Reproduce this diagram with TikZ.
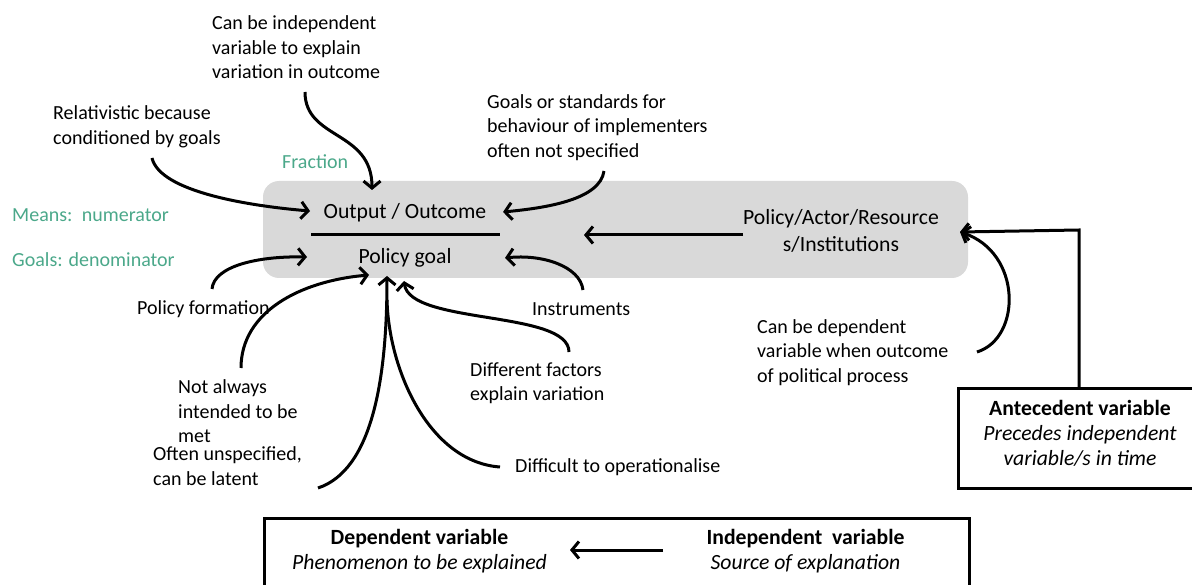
\documentclass[tikz,border=0pt]{standalone}
\usepackage{fontspec}
\setmainfont{Carlito}
\usetikzlibrary{arrows.meta}
\definecolor{fracgreen}{HTML}{4BA88A}
\definecolor{boxgray}{HTML}{D9D9D9}

\begin{document}
\begin{tikzpicture}[x=1pt,y=-1pt,
    every node/.style={font=\fontsize{20}{24.5}\selectfont, inner sep=0pt},
    note/.style={align=left, anchor=west},
    greennote/.style={anchor=west, text=fracgreen},
    term/.style={font=\fontsize{21.7}{26.5}\selectfont},
    varbox/.style={align=center, font=\fontsize{21.7}{25}\selectfont},
    link/.style={line width=3pt, -{Straight Barb[length=7pt,width=17pt]}},
    frame/.style={line width=3pt}
  ]
  \useasboundingbox (0,0) rectangle (1192,585);

  % grey band behind the fraction
  \fill[boxgray, rounded corners=16pt] (263,181) rectangle (968,278);

  % fraction and the independent side
  \node[term] (out) at (405,213) {Output / Outcome};
  \node[term] (goal) at (405,258) {Policy goal};
  \node[term, align=center] (pol) at (841,231) {Policy/Actor/Resource\\s/Institutions};
  \draw[line width=3pt] (311,235) -- (500,235);
  \coordinate (poltip) at (584,235);
  \draw[link] (743,235) -- (poltip);

  % green labels
  \node[greennote] (frac) at (282,162) {Fraction};
  \node[greennote] (means) at (12,215) {Means: \,numerator};
  \node[greennote] (goals) at (12,260) {Goals: denominator};

  % comments
  \node[note] (indep) at (212,47.5) {Can be independent\\variable to explain\\variation in outcome};
  \node[note] (relat) at (53,127) {Relativistic because\\conditioned by goals};
  \node[note] (stand) at (487,127.5) {Goals or standards for\\behaviour of implementers\\often not specified};
  \node[note] (form) at (137,309) {Policy formation};
  \node[note] (instr) at (532,309) {Instruments};
  \node[note] (depend) at (757,352.5) {Can be dependent\\variable when outcome\\of political process};
  \node[note] (notmet) at (178,411.5) {Not always\\intended to be\\met};
  \node[note] (factors) at (470,383) {Different factors\\explain variation};
  \node[note] (latent) at (153,466) {Often unspecified,\\can be latent};
  \node[note] (operat) at (515,467) {Difficult to operationalise};

  % curved pointers
  \coordinate (a0) at (305,92);   \coordinate (a1) at (372,190);
  \coordinate (b0) at (152,158);  \coordinate (b1) at (310,211);
  \coordinate (c0) at (604,171);  \coordinate (c1) at (503,212);
  \coordinate (d0) at (212,289);  \coordinate (d1) at (307,257);
  \coordinate (e0) at (241,368);  \coordinate (e1) at (369,275);
  \coordinate (f0) at (318,488);  \coordinate (g0) at (500,467);
  \coordinate (fg) at (387,276);
  \coordinate (h0) at (569,352);  \coordinate (h1) at (404,281);
  \coordinate (i0) at (583,290);  \coordinate (i1) at (505,258);
  \coordinate (j0) at (977,352);  \coordinate (j1) at (960,232);

  \draw[link] (a0) .. controls (305,140) and (372,130) .. (a1);
  \draw[link] (b0) .. controls (160,192) and (250,206) .. (b1);
  \draw[link] (c0) .. controls (600,200) and (545,208) .. (c1);
  \draw[link] (d0) .. controls (214,266) and (258,256) .. (d1);
  \draw[link] (e0) .. controls (241,312) and (300,281) .. (e1);
  \draw[line width=3pt] (g0) .. controls (430,462) and (389,372) .. (387,300);
  \draw[link] (f0) .. controls (372,470) and (387,380) .. (fg);
  \draw[link] (h0) .. controls (569,310) and (410,325) .. (h1);
  \draw[link] (i0) .. controls (580,266) and (542,254) .. (i1);
  \draw[link] (j0) .. controls (1022,338) and (1022,252) .. (j1);

  % antecedent variable
  \draw[frame] (958,389) rectangle (1210,488);
  \node[varbox] (ante) at (1080,433) {\textbf{Antecedent variable}\\\textit{Precedes independent}\\\textit{variable/s in time}};
  \coordinate (corner) at (1079,230);
  \draw[link] (1079,389) -- (corner) -- (j1);

  % dependent / independent
  \draw[frame] (264,518) rectangle (969,600);
  \node[varbox] (dep) at (419.5,551.5) {\textbf{Dependent variable}\\\textit{Phenomenon to be explained}};
  \node[varbox] (ind) at (805.5,551.5) {\textbf{Independent \ variable}\\\textit{Source of explanation}};
  \draw[link] (663,550) -- (570,550);
\end{tikzpicture}
\end{document}
